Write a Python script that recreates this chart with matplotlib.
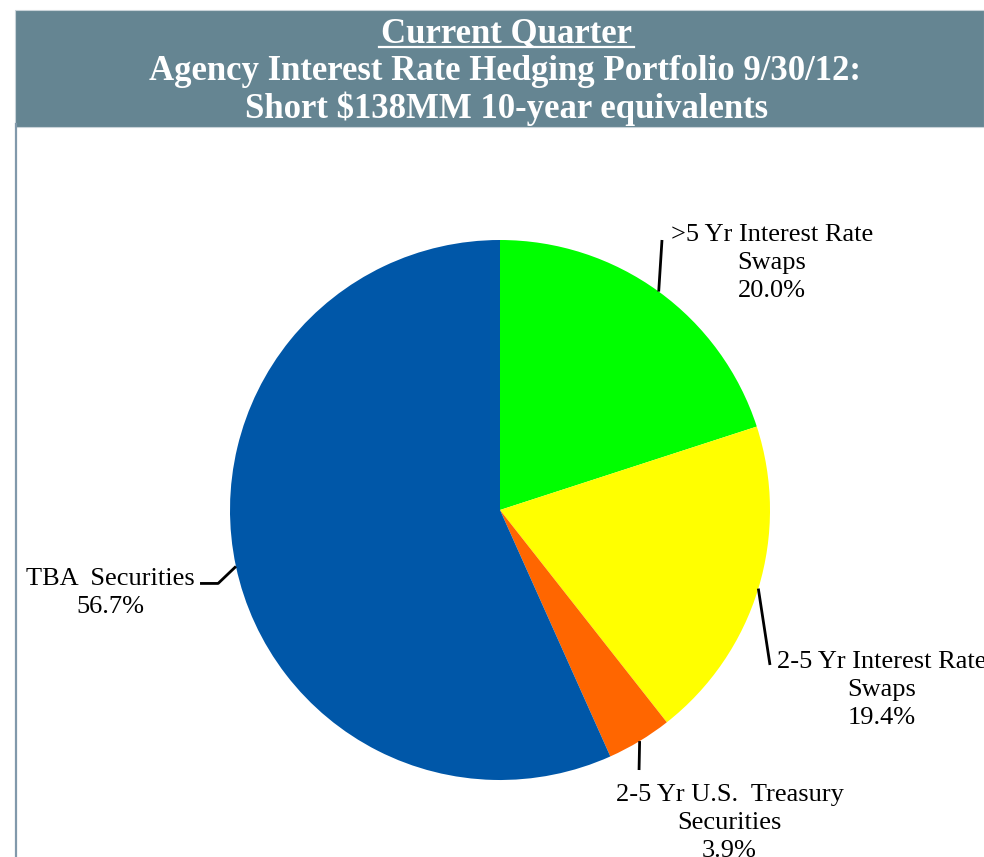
import numpy as np
import matplotlib
matplotlib.use('Agg')
import matplotlib.pyplot as plt
from matplotlib.patches import Rectangle
from matplotlib.lines import Line2D

plt.rcParams['font.family'] = ['Liberation Serif', 'DejaVu Serif']

# data
labels = ['>5 Yr Interest Rate\nSwaps', '2-5 Yr Interest Rate\nSwaps',
          '2-5 Yr U.S.  Treasury\nSecurities', 'TBA  Securities']
shares = [20.0, 19.4, 3.9, 56.7]
slice_colors = ['#00FF00', '#FFFF00', '#FF6600', '#0057A8']
title_lines = ['Current Quarter',
               'Agency Interest Rate Hedging Portfolio 9/30/12:',
               'Short $138MM 10-year equivalents']

W, H = 984, 857
fig = plt.figure(figsize=(W / 100., H / 100.), dpi=100)
fig.patch.set_facecolor('white')

def fx(px): return px / float(W)
def fy(py): return 1 - py / float(H)

# header band
hdr = '#658592'
fig.patches.append(Rectangle((fx(15), fy(127)), fx(W) - fx(15), fy(10) - fy(127),
                             transform=fig.transFigure, facecolor=hdr,
                             edgecolor='#c9d3d9', lw=0.8, zorder=0))
# left border line
fig.lines.append(Line2D([fx(16), fx(16)], [fy(124), fy(H)], transform=fig.transFigure,
                        color='#8199ab', lw=1.6))

# titles
tk = dict(color='white', fontweight='bold', fontsize=25, ha='center', va='baseline')
fig.text(fx(506), fy(42), title_lines[0], **tk)
fig.text(fx(505), fy(80), title_lines[1], **tk)
fig.text(fx(507), fy(118), title_lines[2], **tk)
fig.lines.append(Line2D([fx(379), fx(634)], [fy(46.5), fy(46.5)], transform=fig.transFigure,
                        color='white', lw=1.6))

# pie axes, radius 270 px, centre (500, 510)
R = 270.
ax = fig.add_axes([fx(500 - R), fy(510 + R), 2 * R / W, 2 * R / H])
wedges, _ = ax.pie(shares, colors=slice_colors, startangle=90, counterclock=False,
                   wedgeprops=dict(linewidth=0))
ax.set_xlim(-1, 1); ax.set_ylim(-1, 1)
ax.set_aspect('equal')
ax.axis('off')

# label positions (data units) and leader line bends
txt_pos = [(1.007, 0.915), (1.415, -0.667), (0.85, -1.158), (-1.444, -0.307)]
leader_pts = [[(0.600, 1.00)],
              [(1.000, -0.574)],
              [(0.515, -0.963)],
              [(-1.044, -0.272), (-1.111, -0.272)]]

for i, w in enumerate(wedges):
    mid = np.deg2rad((w.theta1 + w.theta2) / 2.)
    xs = [np.cos(mid)] + [p[0] for p in leader_pts[i]]
    ys = [np.sin(mid)] + [p[1] for p in leader_pts[i]]
    ax.plot(xs, ys, color='black', lw=2, clip_on=False, solid_capstyle='butt')
    txt = labels[i] + '\n' + '%.1f%%' % shares[i]
    ax.text(txt_pos[i][0], txt_pos[i][1], txt, ha='center', va='center',
            multialignment='center', fontsize=19, linespacing=1.35, clip_on=False)

fig.savefig('out.png', dpi=100)
